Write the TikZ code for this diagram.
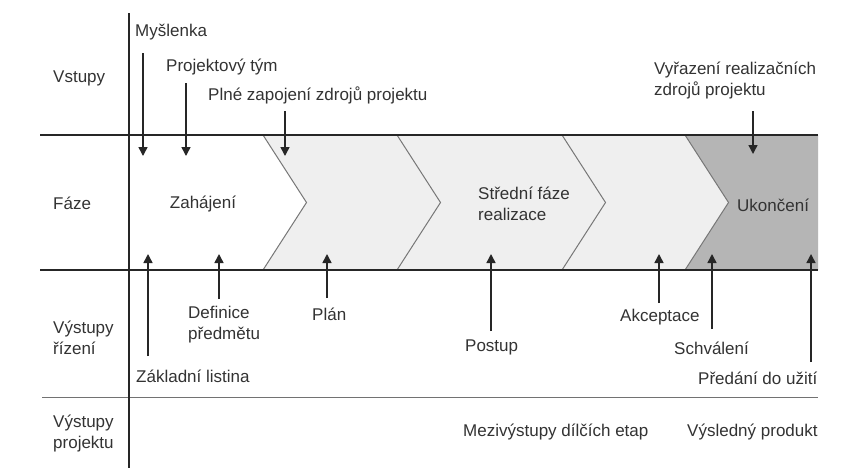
\documentclass[tikz,border=0pt]{standalone}
\usepackage{fontspec}
\setmainfont{Liberation Sans}
\usetikzlibrary{arrows.meta}
\definecolor{ink}{HTML}{262626}
\definecolor{txt}{HTML}{333333}
\definecolor{phaselight}{HTML}{EFEFEF}
\definecolor{phasedark}{HTML}{B5B5B5}
\definecolor{chevline}{HTML}{777777}
\tikzset{
  lbl/.style={anchor=west, inner sep=0pt, text=txt, font=\fontsize{17}{21}\selectfont, align=left},
  rule/.style={draw=ink, line width=1.5pt},
  thinrule/.style={draw=ink!65, line width=1pt},
  chev/.style={draw=chevline, line width=1pt},
  flow/.style={draw=ink, line width=1.5pt, -{Triangle[length=9pt,width=9pt]}}
}
\begin{document}
\begin{tikzpicture}[x=1pt,y=-1pt]
\useasboundingbox (0,0) rectangle (850,472);
\fill[white] (0,0) rectangle (850,472);

% phase band fills
\fill[phaselight] (263,135) -- (685,135) -- (728.5,202.5) -- (685,270) -- (263,270) -- (306.5,202.5) -- cycle;
\fill[phasedark] (685,135) -- (818,135) -- (818,270) -- (685,270) -- (728.5,202.5) -- cycle;
\foreach \x in {263,397,562,685}
  \draw[chev] (\x,135) -- (\x+43.5,202.5) -- (\x,270);

% grid lines
\draw[rule] (40,135) -- (818,135);
\draw[rule] (40,270) -- (818,270);
\draw[thinrule] (42,397) -- (818,397);
\draw[rule] (129,13) -- (129,468);

% row headings
\node[lbl] (hIn) at (53,78) {Vstupy};
\node[lbl] (hPh) at (53,203) {Fáze};
\node[lbl] (hMg) at (53,338) {Výstupy\\řízení};
\node[lbl] (hPr) at (53,433) {Výstupy\\projektu};

% phases
\node[lbl, anchor=center] (pStart) at (203,204) {Zahájení};
\node[lbl] (pMid) at (478,203.5) {Střední fáze\\realizace};
\node[lbl] (pEnd) at (737,205) {Ukončení};

% inputs
\node[lbl] (iIdea) at (135,32) {Myšlenka};
\node[lbl] (iTeam) at (166,67) {Projektový tým};
\node[lbl] (iFull) at (208,95) {Plné zapojení zdrojů projektu};
\node[lbl] (iRel) at (654,81) {Vyřazení realizačních\\zdrojů projektu};

\coordinate (aIdea) at (143,53);  \coordinate (bIdea) at (143,156);
\coordinate (aTeam) at (186,83);  \coordinate (bTeam) at (186,156);
\coordinate (aFull) at (285,111); \coordinate (bFull) at (285,156);
\coordinate (aRel) at (753,111);  \coordinate (bRel) at (753,154);
\foreach \n in {Idea,Team,Full,Rel}
  \draw[flow] (a\n) -- (b\n);

% management outputs
\node[lbl] (oCharter) at (136,376) {Základní listina};
\node[lbl] (oScope) at (188,324.5) {Definice\\předmětu};
\node[lbl] (oPlan) at (312,314) {Plán};
\node[lbl] (oProg) at (465,347) {Postup};
\node[lbl] (oAcc) at (620,317) {Akceptace};
\node[lbl] (oAppr) at (674,348) {Schválení};
\node[lbl] (oHand) at (698,378) {Předání do užití};

\coordinate (sCharter) at (148,356); \coordinate (tCharter) at (148,254);
\coordinate (sScope) at (219,299);   \coordinate (tScope) at (219,254);
\coordinate (sPlan) at (327,298);    \coordinate (tPlan) at (327,254);
\coordinate (sProg) at (491,331);    \coordinate (tProg) at (491,254);
\coordinate (sAcc) at (659,303);     \coordinate (tAcc) at (659,254);
\coordinate (sAppr) at (712,329);    \coordinate (tAppr) at (712,254);
\coordinate (sHand) at (811,362);    \coordinate (tHand) at (811,254);
\foreach \n in {Charter,Scope,Plan,Prog,Acc,Appr,Hand}
  \draw[flow] (s\n) -- (t\n);

% project outputs
\node[lbl] (dInter) at (463,432) {Mezivýstupy dílčích etap};
\node[lbl] (dFinal) at (687,432) {Výsledný produkt};
\end{tikzpicture}
\end{document}
